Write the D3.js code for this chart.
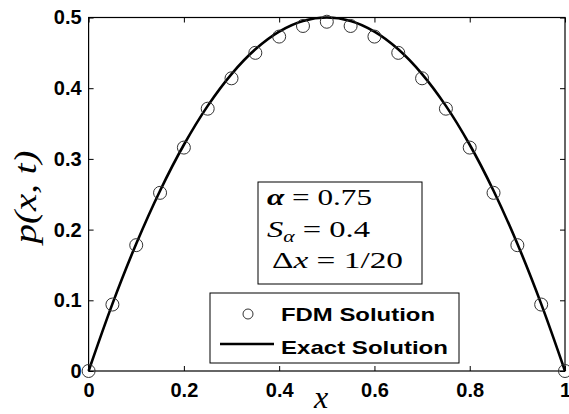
<!DOCTYPE html>
<meta charset="utf-8">
<style>
  body { margin: 0; background: #fff; }
  .axis text { font-family: "Liberation Sans", Arial, sans-serif; font-weight: bold; font-size: 20px; fill: #000; }
  .axis line { stroke: #000; stroke-width: 1px; }
  .axis path { stroke: none; }
  .math { font-family: "Liberation Serif", "DejaVu Serif", serif; fill: #000; }
</style>
<script src="https://d3js.org/d3.v7.min.js"></script>
<body>
<div id="chart"></div>
<script>
  // values
  var xs = [0, 0.05, 0.1, 0.15, 0.2, 0.25, 0.3, 0.35, 0.4, 0.45, 0.5,
            0.55, 0.6, 0.65, 0.7, 0.75, 0.8, 0.85, 0.9, 0.95, 1];
  var fdm = [0, 0.094, 0.178, 0.252, 0.316, 0.371, 0.414, 0.450, 0.473, 0.488, 0.494,
             0.488, 0.473, 0.450, 0.414, 0.371, 0.316, 0.252, 0.178, 0.094, 0];
  var exact = [0, 0.095, 0.18, 0.255, 0.32, 0.375, 0.42, 0.455, 0.48, 0.495, 0.5,
               0.495, 0.48, 0.455, 0.42, 0.375, 0.32, 0.255, 0.18, 0.095, 0];
  var xTicks = [0, 0.2, 0.4, 0.6, 0.8, 1];
  var xTickLabels = ["0", "0.2", "0.4", "0.6", "0.8", "1"];
  var yTicks = [0, 0.1, 0.2, 0.3, 0.4, 0.5];
  var yTickLabels = ["0", "0.1", "0.2", "0.3", "0.4", "0.5"];
  var legendLabels = ["FDM Solution", "Exact Solution"];

  var W = 569, H = 414;
  var margin = {top: 17.5, right: 4, bottom: 43, left: 88.6},
      width = W - margin.left - margin.right,
      height = H - margin.top - margin.bottom;

  var svg = d3.select("#chart")
    .append("svg")
      .attr("width", W)
      .attr("height", H);

  var g = svg.append("g")
      .attr("transform", "translate(" + margin.left + "," + margin.top + ")");

  var x = d3.scaleLinear().domain([0, 1]).range([0, width]);
  var y = d3.scaleLinear().domain([0, 0.5]).range([height, 0]);

  // axes, ticks pointing inward on all four sides
  g.append("g")
    .attr("class", "axis")
    .attr("transform", "translate(0," + height + ")")
    .call(d3.axisBottom(x).tickValues(xTicks)
      .tickFormat(function(d, i) { return xTickLabels[i]; })
      .tickSize(-5).tickSizeOuter(0).tickPadding(12));

  g.append("g")
    .attr("class", "axis")
    .call(d3.axisTop(x).tickValues(xTicks).tickFormat("")
      .tickSize(-5).tickSizeOuter(0));

  g.append("g")
    .attr("class", "axis")
    .call(d3.axisLeft(y).tickValues(yTicks)
      .tickFormat(function(d, i) { return yTickLabels[i]; })
      .tickSize(-5).tickSizeOuter(0).tickPadding(7));

  g.append("g")
    .attr("class", "axis")
    .attr("transform", "translate(" + width + ",0)")
    .call(d3.axisRight(y).tickValues(yTicks).tickFormat("")
      .tickSize(-5).tickSizeOuter(0));

  // frame
  g.append("rect")
    .attr("width", width)
    .attr("height", height)
    .attr("fill", "none")
    .attr("stroke", "#000")
    .attr("stroke-width", 1.2);

  // exact solution
  var line = d3.line()
    .x(function(d, i) { return x(xs[i]); })
    .y(function(d) { return y(d); })
    .curve(d3.curveCatmullRom);

  g.append("path")
    .datum(exact)
    .attr("d", line)
    .attr("fill", "none")
    .attr("stroke", "#000")
    .attr("stroke-width", 2.6);

  // FDM points
  g.selectAll(".pt")
    .data(fdm)
    .enter().append("circle")
      .attr("class", "pt")
      .attr("cx", function(d, i) { return x(xs[i]); })
      .attr("cy", function(d) { return y(d); })
      .attr("r", 6.5)
      .attr("fill", "none")
      .attr("stroke", "#333")
      .attr("stroke-width", 1);

  // parameter box
  svg.append("rect")
    .attr("x", 258).attr("y", 182)
    .attr("width", 164).attr("height", 102)
    .attr("fill", "#fff").attr("stroke", "#000").attr("stroke-width", 1);

  var t1 = svg.append("text").attr("class", "math")
    .attr("x", 267).attr("y", 205).attr("font-size", 24)
    .attr("textLength", 105).attr("lengthAdjust", "spacingAndGlyphs");
  t1.append("tspan").attr("font-weight", "bold").attr("font-style", "italic").text("α");
  t1.append("tspan").text(" = 0.75");

  var t2 = svg.append("text").attr("class", "math")
    .attr("x", 267).attr("y", 237).attr("font-size", 24)
    .attr("textLength", 103).attr("lengthAdjust", "spacingAndGlyphs");
  t2.append("tspan").attr("font-style", "italic").text("S");
  t2.append("tspan").attr("font-style", "italic").attr("font-size", 16).attr("dy", 5).text("α");
  t2.append("tspan").attr("dy", -5).text(" = 0.4");

  var t3 = svg.append("text").attr("class", "math")
    .attr("x", 272).attr("y", 268).attr("font-size", 24)
    .attr("textLength", 131).attr("lengthAdjust", "spacingAndGlyphs");
  t3.append("tspan").text("Δ");
  t3.append("tspan").attr("font-style", "italic").text("x");
  t3.append("tspan").text(" = 1/20");

  // legend
  svg.append("rect")
    .attr("x", 210).attr("y", 293)
    .attr("width", 249).attr("height", 70)
    .attr("fill", "#fff").attr("stroke", "#000").attr("stroke-width", 1);

  svg.append("circle")
    .attr("cx", 248).attr("cy", 314).attr("r", 5)
    .attr("fill", "none").attr("stroke", "#333").attr("stroke-width", 1);

  svg.append("line")
    .attr("x1", 220).attr("x2", 274)
    .attr("y1", 344).attr("y2", 344)
    .attr("stroke", "#000").attr("stroke-width", 2.6);

  svg.selectAll(".leg")
    .data(legendLabels)
    .enter().append("text")
      .attr("class", "leg")
      .attr("x", 281)
      .attr("y", function(d, i) { return 321 + i * 33; })
      .attr("textLength", function(d, i) { return i == 0 ? 154 : 167; })
      .attr("lengthAdjust", "spacingAndGlyphs")
      .style("font-family", "'Liberation Sans', Arial, sans-serif")
      .style("font-weight", "bold")
      .style("font-size", "19px")
      .text(function(d) { return d; });

  // axis labels
  svg.append("text").attr("class", "math")
    .attr("x", 321).attr("y", 408)
    .attr("text-anchor", "middle")
    .attr("font-size", 32).attr("font-style", "italic")
    .text("x");

  svg.append("text").attr("class", "math")
    .attr("transform", "translate(36,197) rotate(-90)")
    .attr("text-anchor", "middle")
    .attr("font-size", 32).attr("font-style", "italic")
    .attr("textLength", 93).attr("lengthAdjust", "spacingAndGlyphs")
    .text("p(x, t)");
</script>
</body>
